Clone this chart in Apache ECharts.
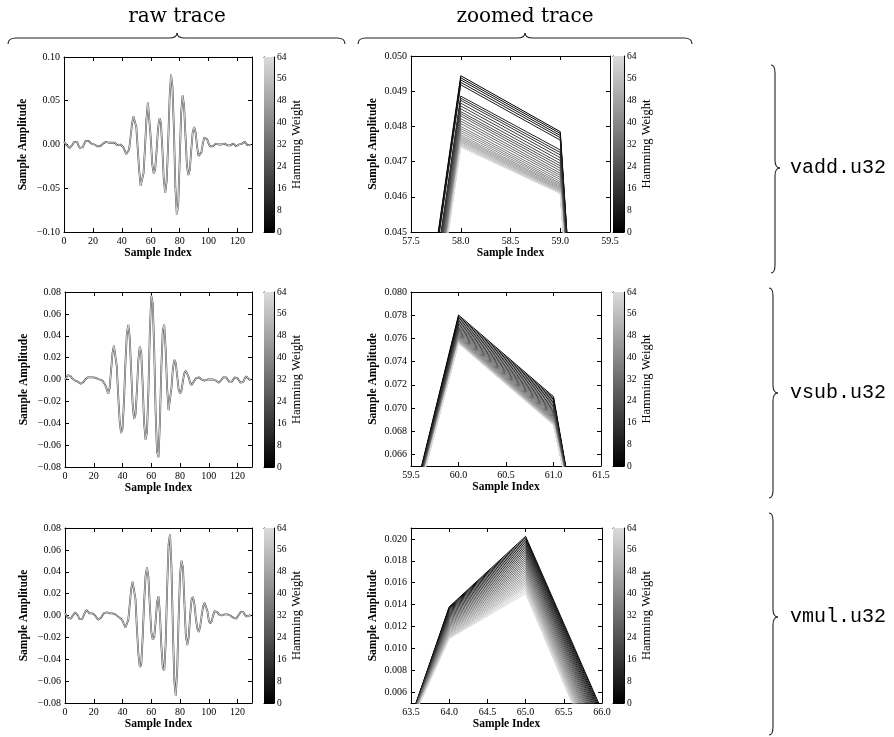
<!DOCTYPE html>
<html><head><meta charset="utf-8">
<script src="https://cdn.jsdelivr.net/npm/echarts@6/dist/echarts.min.js"></script>
<style>html,body{margin:0;padding:0;background:#fff}#c{width:894px;height:737px}</style>
</head><body><div id="c"></div>
<script>
// ---------------- DATA ----------------
const columnTitles = ['raw trace', 'zoomed trace'];
const rowLabels = ['vadd.u32', 'vsub.u32', 'vmul.u32'];

const vaddRaw = [0.003, 0.002, -0.001, -0.003, -0.004, -0.003, 0.000, 0.003, 0.004, 0.003,
 -0.001, -0.004, -0.005, -0.003, 0.001, 0.004, 0.005, 0.004, 0.002, 0.001,
 0.001, 0.000, -0.001, -0.002, -0.003, -0.002, 0.000, 0.001, 0.002, 0.003,
 0.003, 0.002, 0.002, 0.002, 0.003, 0.002, 0.000, -0.001, -0.001, 0.000,
 0.000, -0.003, -0.007, -0.011, -0.012, -0.006, 0.008, 0.023, 0.032, 0.033,
 0.020, -0.005, -0.030, -0.047, -0.049, -0.033, -0.004, 0.0285, 0.0479, 0.0464,
 0.0073, -0.022, -0.033, -0.029, -0.008, 0.018, 0.030, 0.025, -0.004, -0.040,
 -0.055, -0.042, 0.000, 0.052, 0.080, 0.066, 0.018, -0.048, -0.080, -0.068,
 -0.018, 0.036, 0.056, 0.045, 0.010, -0.024, -0.035, -0.029, -0.006, 0.014,
 0.020, 0.014, -0.002, -0.013, -0.015, -0.009, 0.001, 0.008, 0.009, 0.006,
 0.001, -0.002, -0.003, -0.002, 0.000, 0.001, 0.001, 0.000, 0.000, 0.000,
 0.000, 0.001, 0.000, -0.001, -0.002, -0.001, 0.001, 0.001, -0.001, -0.002,
 -0.001, 0.000, 0.000, 0.001, 0.003, 0.003, 0.001, -0.001, -0.001, 0.000];

const vsubRaw = [0.000, 0.002, 0.004, 0.004, 0.003, 0.001, 0.000, -0.001, -0.001, -0.002,
 -0.003, -0.004, -0.004, -0.002, 0.000, 0.001, 0.002, 0.002, 0.002, 0.002,
 0.002, 0.002, 0.001, 0.000, 0.000, 0.000, -0.001, -0.002, -0.005, -0.009,
 -0.013, -0.008, 0.008, 0.024, 0.031, 0.030, 0.012, -0.015, -0.038, -0.049,
 -0.045, -0.020, 0.015, 0.042, 0.050, 0.038, 0.008, -0.022, -0.036, -0.032,
 -0.010, 0.018, 0.030, 0.025, -0.005, -0.040, -0.055, -0.048, -0.010, 0.0446,
 0.0766, 0.0696, 0.028, -0.030, -0.066, -0.071, -0.038, 0.012, 0.045, 0.050,
 0.027, -0.008, -0.028, -0.027, -0.008, 0.010, 0.018, 0.015, 0.003, -0.009,
 -0.013, -0.010, -0.001, 0.006, 0.008, 0.007, 0.002, -0.003, -0.005, -0.004,
 -0.001, 0.001, 0.002, 0.002, 0.001, 0.000, 0.000, -0.001, 0.000, 0.000,
 0.000, 0.000, 0.000, 0.000, 0.000, -0.001, -0.002, -0.003, -0.002, 0.000,
 0.002, 0.003, 0.002, 0.000, -0.002, -0.003, -0.002, 0.000, 0.002, 0.003,
 0.001, -0.001, -0.003, -0.004, -0.002, 0.001, 0.003, 0.002, 0.000, 0.000];

const vmulRaw = [0.002, 0.000, -0.002, -0.003, -0.003, -0.001, 0.001, 0.003, 0.003, 0.000,
 -0.003, -0.004, -0.003, 0.000, 0.003, 0.005, 0.004, 0.002, 0.001, 0.002,
 0.002, 0.000, -0.002, -0.004, -0.004, -0.002, 0.000, 0.002, 0.003, 0.003,
 0.002, 0.002, 0.002, 0.002, 0.002, 0.001, 0.000, -0.001, -0.002, -0.003,
 -0.005, -0.008, -0.011, -0.011, -0.004, 0.010, 0.024, 0.031, 0.030, 0.015,
 -0.012, -0.035, -0.047, -0.045, -0.020, 0.012, 0.036, 0.044, 0.035, 0.008,
 -0.015, -0.022, -0.020, -0.0055, 0.0124, 0.0176, 0.0014, -0.028, -0.048, -0.050,
 -0.025, 0.025, 0.065, 0.0745, 0.045, -0.012, -0.060, -0.0734, -0.050, -0.002,
 0.038, 0.050, 0.044, 0.012, -0.018, -0.027, -0.020, 0.000, 0.015, 0.017,
 0.010, -0.003, -0.012, -0.015, -0.010, 0.000, 0.008, 0.0115, 0.011, 0.004,
 -0.005, -0.007, -0.005, 0.000, 0.004, 0.005, 0.003, 0.001, 0.000, 0.000,
 0.001, 0.001, 0.000, 0.001, 0.001, 0.000, -0.001, -0.002, -0.003, -0.003,
 -0.001, 0.001, 0.003, 0.0035, 0.003, 0.001, -0.001, -0.001, 0.000, 0.000];

// Hamming weights of the plotted zoomed traces
const hammingWeights = [0, 2, 4, 6, 8, 10, 12, 14, 16, 18, 20, 22, 24, 26, 28, 30, 32,
 34, 36, 38, 40, 42, 44, 46, 48, 50, 52, 54, 56, 58, 60, 62, 64];

// vadd zoom: samples 57..60, one value per Hamming weight
const addZoomSamples = [57, 58, 59, 60];
const addAt57 = [0.0298, 0.0298, 0.0297, 0.0297, 0.0296, 0.0293, 0.0292, 0.0292, 0.0291, 0.0290,
 0.0290, 0.0289, 0.0288, 0.0288, 0.0287, 0.0287, 0.0286, 0.0285, 0.0285, 0.0284,
 0.0284, 0.0283, 0.0283, 0.0282, 0.0282, 0.0281, 0.0281, 0.0281, 0.0280, 0.0280,
 0.0280, 0.0279, 0.0279];
const addAt58 = [0.04944, 0.04938, 0.04932, 0.04925, 0.04918, 0.04886, 0.04880, 0.04874, 0.04866, 0.04858,
 0.04850, 0.04842, 0.04836, 0.04830, 0.04822, 0.04815, 0.04808, 0.04800, 0.04794, 0.04788,
 0.04782, 0.04776, 0.04771, 0.04767, 0.04763, 0.04760, 0.04757, 0.04754, 0.04751, 0.04748,
 0.04746, 0.04744, 0.04741];
const addAt59 = [0.04785, 0.04780, 0.04774, 0.04768, 0.04761, 0.04733, 0.04726, 0.04719, 0.04711, 0.04703,
 0.04695, 0.04688, 0.04681, 0.04674, 0.04667, 0.04661, 0.04655, 0.04649, 0.04643, 0.04638,
 0.04634, 0.04630, 0.04627, 0.04624, 0.04621, 0.04619, 0.04617, 0.04615, 0.04613, 0.04612,
 0.04611, 0.04610, 0.04609];
const addAt60 = [0.0050, 0.0051, 0.0052, 0.0053, 0.0054, 0.0058, 0.0059, 0.0060, 0.0061, 0.0062,
 0.0064, 0.0065, 0.0066, 0.0067, 0.0068, 0.0070, 0.0071, 0.0072, 0.0073, 0.0075,
 0.0076, 0.0077, 0.0078, 0.0080, 0.0081, 0.0082, 0.0083, 0.0084, 0.0086, 0.0087,
 0.0088, 0.0089, 0.0090];

// vsub zoom: samples 59..62
const subZoomSamples = [59, 60, 61, 62];
const subAt59 = [0.0445, 0.0445, 0.0445, 0.0445, 0.0445, 0.0445, 0.0445, 0.0446, 0.0446, 0.0446,
 0.0446, 0.0446, 0.0446, 0.0446, 0.0446, 0.0446, 0.0446, 0.0446, 0.0446, 0.0446,
 0.0447, 0.0447, 0.0447, 0.0447, 0.0447, 0.0447, 0.0447, 0.0447, 0.0447, 0.0447,
 0.0447, 0.0447, 0.0447];
const subAt60 = [0.07802, 0.07790, 0.07778, 0.07765, 0.07752, 0.07740, 0.07728, 0.07716, 0.07705, 0.07694,
 0.07684, 0.07674, 0.07664, 0.07655, 0.07646, 0.07638, 0.07630, 0.07622, 0.07615, 0.07608,
 0.07602, 0.07596, 0.07590, 0.07585, 0.07580, 0.07576, 0.07572, 0.07568, 0.07565, 0.07562,
 0.07560, 0.07558, 0.07557];
const subAt61 = [0.07098, 0.07086, 0.07074, 0.07062, 0.07050, 0.07038, 0.07026, 0.07014, 0.07003, 0.06992,
 0.06982, 0.06972, 0.06962, 0.06953, 0.06944, 0.06936, 0.06928, 0.06920, 0.06913, 0.06906,
 0.06900, 0.06894, 0.06888, 0.06883, 0.06878, 0.06874, 0.06870, 0.06866, 0.06863, 0.06860,
 0.06857, 0.06855, 0.06853];
const subAt62 = [0.0243, 0.0246, 0.0249, 0.0252, 0.0255, 0.0258, 0.0261, 0.0264, 0.0267, 0.0270,
 0.0273, 0.0275, 0.0277, 0.0279, 0.0281, 0.0283, 0.0285, 0.0287, 0.0289, 0.0291,
 0.0293, 0.0295, 0.0297, 0.0299, 0.0301, 0.0303, 0.0305, 0.0307, 0.0309, 0.0311,
 0.0313, 0.0315, 0.0317];

// vmul zoom: samples 63..66
const mulZoomSamples = [63, 64, 65, 66];
const mulAt63 = [-0.0065, -0.0064, -0.0064, -0.0063, -0.0062, -0.0062, -0.0061, -0.0060, -0.0060, -0.0059,
 -0.0058, -0.0058, -0.0057, -0.0056, -0.0056, -0.0055, -0.0054, -0.0054, -0.0053, -0.0052,
 -0.0052, -0.0051, -0.0050, -0.0050, -0.0049, -0.0049, -0.0048, -0.0048, -0.0047, -0.0047,
 -0.0046, -0.0046, -0.0045];
const mulAt64 = [0.01379, 0.01372, 0.01365, 0.01357, 0.01348, 0.01339, 0.01330, 0.01320, 0.01310, 0.01300,
 0.01290, 0.01280, 0.01270, 0.01260, 0.01250, 0.01240, 0.01230, 0.01220, 0.01210, 0.01200,
 0.01190, 0.01180, 0.01170, 0.01160, 0.01150, 0.01140, 0.01131, 0.01122, 0.01114, 0.01107,
 0.01100, 0.01095, 0.01090];
const mulAt65 = [0.02024, 0.02010, 0.01996, 0.01981, 0.01966, 0.01950, 0.01934, 0.01918, 0.01902, 0.01886,
 0.01870, 0.01853, 0.01836, 0.01819, 0.01802, 0.01785, 0.01768, 0.01751, 0.01734, 0.01717,
 0.01700, 0.01683, 0.01666, 0.01650, 0.01634, 0.01618, 0.01602, 0.01587, 0.01572, 0.01557,
 0.01539, 0.01520, 0.01501];
const mulAt66 = [0.0043, 0.0041, 0.0039, 0.0037, 0.0035, 0.0033, 0.0031, 0.0029, 0.0027, 0.0025,
 0.0023, 0.0021, 0.0019, 0.0017, 0.0015, 0.0013, 0.0011, 0.0009, 0.0007, 0.0005,
 0.0003, 0.0001, -0.0001, -0.0003, -0.0005, -0.0006, -0.0008, -0.0009, -0.0010, -0.0011,
 -0.0013, -0.0014, -0.0015];

// tick labels
const rawXTicks = [0, 20, 40, 60, 80, 100, 120];
const rawYTicksAdd = [-0.10, -0.05, 0.00, 0.05, 0.10];
const rawYTicksSubMul = [-0.08, -0.06, -0.04, -0.02, 0.00, 0.02, 0.04, 0.06, 0.08];
const addZoomXTicks = [57.5, 58.0, 58.5, 59.0, 59.5];
const addZoomYTicks = [0.045, 0.046, 0.047, 0.048, 0.049, 0.050];
const subZoomXTicks = [59.5, 60.0, 60.5, 61.0, 61.5];
const subZoomYTicks = [0.066, 0.068, 0.070, 0.072, 0.074, 0.076, 0.078, 0.080];
const mulZoomXTicks = [63.5, 64.0, 64.5, 65.0, 65.5, 66.0];
const mulZoomYTicks = [0.006, 0.008, 0.010, 0.012, 0.014, 0.016, 0.018, 0.020];
const hwTicks = [0, 8, 16, 24, 32, 40, 48, 56, 64];

// ---------------- STYLE / LAYOUT ----------------
const FONT = '"Liberation Serif", "Times New Roman", serif';
const TITLE_FONT = '"DejaVu Serif", "Liberation Serif", serif';
const MONO = '"Liberation Mono", "DejaVu Sans Mono", monospace';
const TICK_FS = 10;
const LABEL_FS = 11.5;
const HW_LIGHT = 0xdb;

function hwColor(hw) {
  const g = Math.round(hw / 64 * HW_LIGHT);
  return 'rgb(' + g + ',' + g + ',' + g + ')';
}
function fmt(d) {
  return v => (v < -1e-12 ? '\u2212' : '') + Math.abs(v).toFixed(d);
}
const sampleIdx = vaddRaw.map((_, i) => i);

const panels = [
  {box: [64, 57, 188, 175], cb: [264, 57, 10, 175], xr: [0, 130], yr: [-0.1, 0.1], xt: rawXTicks, yt: rawYTicksAdd, xd: 0, yd: 2, raw: vaddRaw, yGap: 35},
  {box: [411, 56, 199, 176], cb: [613, 56, 11, 176], xr: [57.5, 59.5], yr: [0.045, 0.050], xt: addZoomXTicks, yt: addZoomYTicks, xd: 1, yd: 3, zs: addZoomSamples, zv: [addAt57, addAt58, addAt59, addAt60], yGap: 32},
  {box: [65, 292, 187, 175], cb: [264, 292, 10, 175], xr: [0, 130], yr: [-0.08, 0.08], xt: rawXTicks, yt: rawYTicksSubMul, xd: 0, yd: 2, raw: vsubRaw, yGap: 35},
  {box: [411, 292, 190, 174], cb: [613, 292, 11, 174], xr: [59.5, 61.5], yr: [0.065, 0.080], xt: subZoomXTicks, yt: subZoomYTicks, xd: 1, yd: 3, zs: subZoomSamples, zv: [subAt59, subAt60, subAt61, subAt62], yGap: 32},
  {box: [65, 528, 187, 175], cb: [264, 528, 10, 175], xr: [0, 130], yr: [-0.08, 0.08], xt: rawXTicks, yt: rawYTicksSubMul, xd: 0, yd: 2, raw: vmulRaw, yGap: 35},
  {box: [411, 528, 191, 175], cb: [613, 528, 11, 175], xr: [63.5, 66.0], yr: [0.005, 0.021], xt: mulZoomXTicks, yt: mulZoomYTicks, xd: 1, yd: 3, zs: mulZoomSamples, zv: [mulAt63, mulAt64, mulAt65, mulAt66], yGap: 32}
];

const grids = [], xAxes = [], yAxes = [], series = [];
const lineAx = {show: true, onZero: false, lineStyle: {color: '#000', width: 1}};
const labelStyle = {fontFamily: FONT, fontSize: TICK_FS, color: '#000'};
const nameStyle = {fontFamily: FONT, fontSize: LABEL_FS, fontWeight: 'bold', color: '#000'};

function pushGrid(b) {
  grids.push({left: b[0], top: b[1], width: b[2], height: b[3], containLabel: false, outerBoundsMode: 'none'});
  return grids.length - 1;
}

panels.forEach(p => {
  const gi = pushGrid(p.box);
  const xi = xAxes.length, yi = yAxes.length;
  const tick = (vals) => ({show: true, inside: true, length: 4, customValues: vals, lineStyle: {color: '#000', width: 1}});
  xAxes.push({type: 'value', gridIndex: gi, min: p.xr[0], max: p.xr[1], position: 'bottom', axisLine: lineAx,
    axisTick: tick(p.xt), splitLine: {show: false},
    axisLabel: Object.assign({show: true, customValues: p.xt, formatter: fmt(p.xd), margin: 4}, labelStyle),
    name: 'Sample Index', nameLocation: 'middle', nameGap: 14, nameTextStyle: nameStyle});
  xAxes.push({type: 'value', gridIndex: gi, min: p.xr[0], max: p.xr[1], position: 'top', axisLine: lineAx,
    axisTick: tick(p.xt), splitLine: {show: false}, axisLabel: {show: false}});
  yAxes.push({type: 'value', gridIndex: gi, min: p.yr[0], max: p.yr[1], position: 'left', axisLine: lineAx,
    axisTick: tick(p.yt), splitLine: {show: false},
    axisLabel: Object.assign({show: true, customValues: p.yt, formatter: fmt(p.yd), margin: 4}, labelStyle),
    name: 'Sample Amplitude', nameLocation: 'middle', nameRotate: 90, nameGap: p.yGap, nameTextStyle: nameStyle});
  yAxes.push({type: 'value', gridIndex: gi, min: p.yr[0], max: p.yr[1], position: 'right', axisLine: lineAx,
    axisTick: tick(p.yt), splitLine: {show: false}, axisLabel: {show: false}});

  if (p.raw) {
    const d = p.raw.map((v, i) => [sampleIdx[i], v]);
    series.push({type: 'line', xAxisIndex: xi, yAxisIndex: yi, data: d, showSymbol: false, silent: true,
      lineStyle: {color: '#444', width: 1.8}, z: 2});
    series.push({type: 'line', xAxisIndex: xi, yAxisIndex: yi, data: d, showSymbol: false, silent: true,
      lineStyle: {color: '#cfcfcf', width: 1.0}, z: 3});
  } else {
    hammingWeights.forEach((hw, k) => {
      series.push({type: 'line', xAxisIndex: xi, yAxisIndex: yi, showSymbol: false, silent: true, clip: true,
        data: p.zs.map((s, j) => [s, p.zv[j][k]]),
        lineStyle: {color: hwColor(hw), width: 1.0}, z: 2});
    });
  }

  // colorbar
  const ci = pushGrid(p.cb);
  const cxi = xAxes.length, cyi = yAxes.length;
  xAxes.push({type: 'category', gridIndex: ci, data: [''], position: 'bottom', axisLine: lineAx, axisTick: {show: false}, axisLabel: {show: false}});
  xAxes.push({type: 'category', gridIndex: ci, data: [''], position: 'top', axisLine: lineAx, axisTick: {show: false}, axisLabel: {show: false}});
  yAxes.push({type: 'value', gridIndex: ci, min: hwTicks[0], max: hwTicks[hwTicks.length - 1], position: 'right', axisLine: lineAx,
    axisTick: {show: true, inside: true, length: 3, customValues: hwTicks, lineStyle: {color: '#000'}}, splitLine: {show: false},
    axisLabel: Object.assign({show: true, customValues: hwTicks, margin: 3}, labelStyle, {fontSize: 9.5}),
    name: 'Hamming Weight', nameLocation: 'middle', nameRotate: 90, nameGap: 16,
    nameTextStyle: {fontFamily: FONT, fontSize: 12.5, color: '#000'}});
  yAxes.push({type: 'value', gridIndex: ci, min: hwTicks[0], max: hwTicks[hwTicks.length - 1], position: 'left', axisLine: lineAx,
    axisTick: {show: false}, axisLabel: {show: false}, splitLine: {show: false}});
  series.push({type: 'bar', xAxisIndex: cxi, yAxisIndex: cyi, data: [hwTicks[hwTicks.length - 1]], barWidth: '100%', silent: true,
    itemStyle: {color: {type: 'linear', x: 0, y: 0, x2: 0, y2: 1,
      colorStops: [{offset: 0, color: hwColor(64)}, {offset: 1, color: hwColor(0)}]}}});
});

// braces
const BR = {stroke: '#222', lineWidth: 1.1, fill: 'none'};
function hBrace(x1, x2, xm, y) {
  const r = 8, c = 6, t = 5;
  return [
    {type: 'bezierCurve', shape: {x1: x1, y1: y + c, cpx1: x1, cpy1: y, x2: x1 + r, y2: y}, style: BR},
    {type: 'line', shape: {x1: x1 + r, y1: y, x2: xm - r, y2: y}, style: BR},
    {type: 'bezierCurve', shape: {x1: xm - r, y1: y, cpx1: xm, cpy1: y, x2: xm, y2: y - t}, style: BR},
    {type: 'bezierCurve', shape: {x1: xm, y1: y - t, cpx1: xm, cpy1: y, x2: xm + r, y2: y}, style: BR},
    {type: 'line', shape: {x1: xm + r, y1: y, x2: x2 - r, y2: y}, style: BR},
    {type: 'bezierCurve', shape: {x1: x2 - r, y1: y, cpx1: x2, cpy1: y, x2: x2, y2: y + c}, style: BR}
  ];
}
function vBrace(x, y1, y2, ym) {
  const r = 8, c = 4, t = 5;
  return [
    {type: 'bezierCurve', shape: {x1: x - c, y1: y1, cpx1: x, cpy1: y1, x2: x, y2: y1 + r}, style: BR},
    {type: 'line', shape: {x1: x, y1: y1 + r, x2: x, y2: ym - r}, style: BR},
    {type: 'bezierCurve', shape: {x1: x, y1: ym - r, cpx1: x, cpy1: ym, x2: x + t, y2: ym}, style: BR},
    {type: 'bezierCurve', shape: {x1: x + t, y1: ym, cpx1: x, cpy1: ym, x2: x, y2: ym + r}, style: BR},
    {type: 'line', shape: {x1: x, y1: ym + r, x2: x, y2: y2 - r}, style: BR},
    {type: 'bezierCurve', shape: {x1: x, y1: y2 - r, cpx1: x, cpy1: y2, x2: x - c, y2: y2}, style: BR}
  ];
}
const graphics = [].concat(
  hBrace(8, 345, 177, 38),
  hBrace(358, 692, 525, 38),
  vBrace(775, 65, 273, 168),
  vBrace(773, 288, 498, 393),
  vBrace(773, 513, 735, 617)
);
const colX = [177, 525];
columnTitles.forEach((t, i) => graphics.push({type: 'text', x: colX[i], y: 17,
  style: {text: t, align: 'center', verticalAlign: 'middle', fontFamily: TITLE_FONT, fontSize: 20, fill: '#000'}}));
const rowY = [168, 393, 617];
rowLabels.forEach((t, i) => graphics.push({type: 'text', x: 790, y: rowY[i],
  style: {text: t, align: 'left', verticalAlign: 'middle', fontFamily: MONO, fontSize: 20, fill: '#000'}}));

const chart = echarts.init(document.getElementById('c'), null, {renderer: 'canvas'});
chart.setOption({
  animation: false,
  backgroundColor: '#fff',
  grid: grids, xAxis: xAxes, yAxis: yAxes, series: series,
  graphic: {elements: graphics}
});
</script></body></html>
